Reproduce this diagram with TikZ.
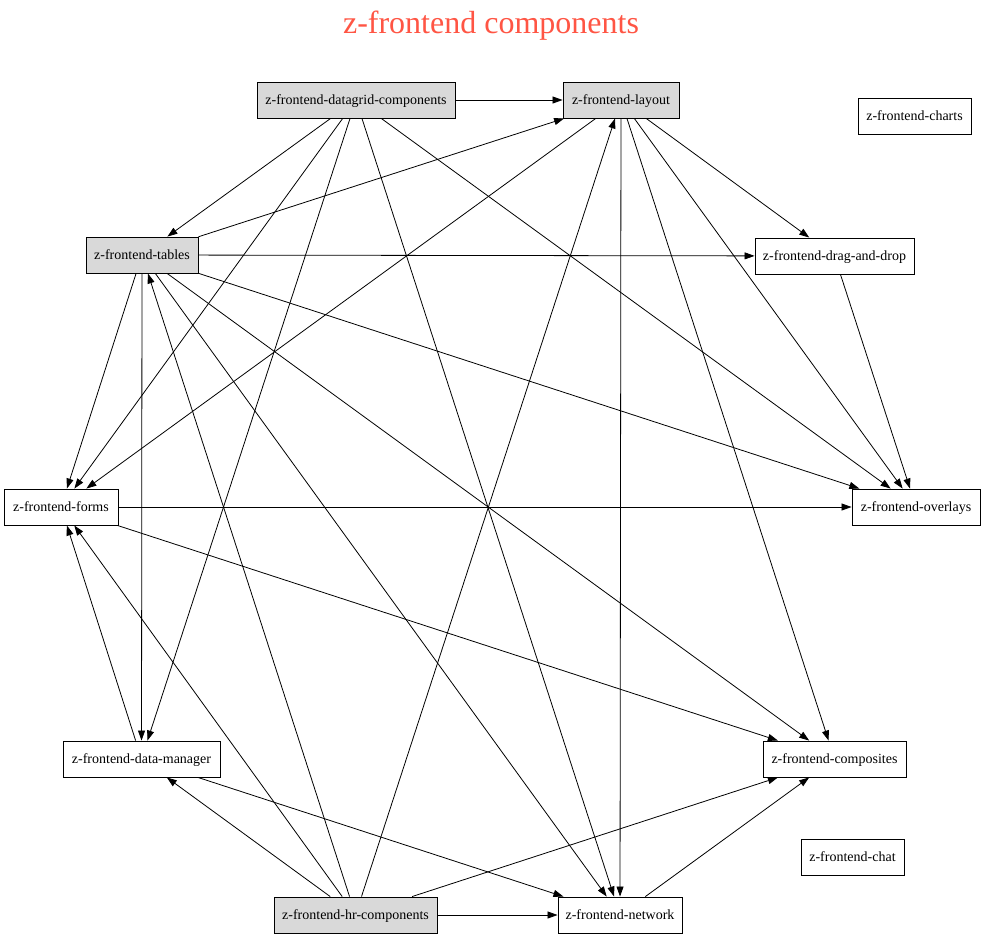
\documentclass[tikz,border=0pt]{standalone}
\usepackage{fontspec}
\setmainfont{Liberation Serif}
\usetikzlibrary{arrows.meta}
\definecolor{titlered}{RGB}{255,85,68}
\definecolor{boxgray}{RGB}{217,217,217}
\tikzset{
  comp/.style={draw=black, line width=0.9pt, rectangle, inner sep=0pt, minimum height=36pt, font=\fontsize{14}{16}\selectfont, fill=white, text depth=1pt},
  gcomp/.style={comp, fill=boxgray},
  dep/.style={draw=black, line width=0.8pt, -{Triangle[length=10pt,width=7pt]}}
}
\begin{document}
\begin{tikzpicture}[x=1pt,y=-1pt]
\useasboundingbox[fill=white] (0,0) rectangle (984,937);
\node[text=titlered, font=\fontsize{32}{36}\selectfont\rmfamily] (title) at (491,26) {z-frontend components};
\node[gcomp, minimum width=198pt] (dg) at (356,100) {z-frontend-datagrid-components};
\node[gcomp, minimum width=116pt] (lay) at (621,100) {z-frontend-layout};
\node[comp, minimum width=113pt] (charts) at (914.5,116) {z-frontend-charts};
\node[gcomp, minimum width=112pt] (tab) at (142,255) {z-frontend-tables};
\node[comp, minimum width=159pt] (dnd) at (834.5,256) {z-frontend-drag-and-drop};
\node[comp, minimum width=114pt] (forms) at (61,507) {z-frontend-forms};
\node[comp, minimum width=128pt] (ovl) at (916,507) {z-frontend-overlays};
\node[comp, minimum width=157pt] (dm) at (141.5,759) {z-frontend-data-manager};
\node[comp, minimum width=143pt] (comp) at (834.5,759) {z-frontend-composites};
\node[comp, minimum width=103pt] (chat) at (852.5,857) {z-frontend-chat};
\node[gcomp, minimum width=163pt] (hr) at (355.5,915) {z-frontend-hr-components};
\node[comp, minimum width=124pt] (net) at (620,915) {z-frontend-network};
\foreach \a/\b in {dg/lay, dg/tab, dg/forms, dg/dm, dg/net, dg/ovl,
  lay/dnd, lay/ovl, lay/comp, lay/net, lay/forms,
  tab/lay, tab/dnd, tab/ovl, tab/forms, tab/dm, tab/comp, tab/net,
  dnd/ovl, forms/ovl, forms/comp, dm/forms, dm/net,
  hr/net, hr/comp, hr/dm, hr/forms, hr/tab, hr/lay, net/comp}
  \draw[dep] (\a) -- (\b);
\end{tikzpicture}
\end{document}
